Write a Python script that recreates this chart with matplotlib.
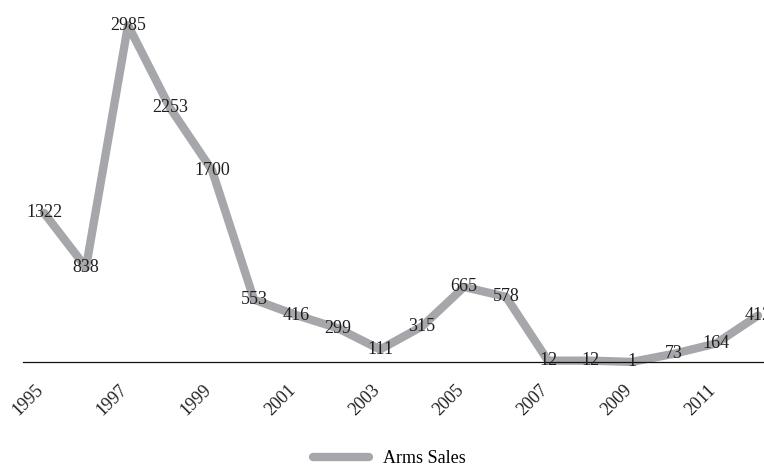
import matplotlib
matplotlib.use('Agg')
import matplotlib.pyplot as plt
import matplotlib.transforms as mtransforms

years = list(range(1995, 2013))
sales = [1322, 838, 2985, 2253, 1700, 553, 416, 299, 111, 315, 665, 578, 12, 12, 1, 73, 164, 412]
tick_years = [y for y in years if y % 2 == 1]

plt.rcParams['font.family'] = ['Liberation Serif', 'DejaVu Serif']

fig = plt.figure(figsize=(7.64, 4.66), dpi=100)
ax = fig.add_axes([23 / 764, 104 / 466, 756 / 764, 361 / 466])

x = list(range(len(years)))
line, = ax.plot(x, sales, color='#a6a7aa', lw=6, solid_capstyle='round',
                solid_joinstyle='round', label='Arms Sales', clip_on=False)

for xi, v in zip(x, sales):
    ax.text(xi, v, str(v), ha='center', va='center', fontsize=13, color='#231f20')

ax.set_xlim(-0.5, len(years) - 0.5)
ax.set_ylim(0, 3200)
ax.set_xticks([years.index(y) for y in tick_years])
ax.set_xticklabels([str(y) for y in tick_years], rotation=45, ha='right', va='top',
                   rotation_mode='anchor', fontsize=13, color='#231f20')
ax.tick_params(axis='x', length=0, pad=14)
# nudge the rotated labels left so their ends sit under the ticks
shift = mtransforms.ScaledTranslation(-9 / 100, 0, fig.dpi_scale_trans)
for lab in ax.get_xticklabels():
    lab.set_transform(lab.get_transform() + shift)
ax.set_yticks([])
for s in ['top', 'right', 'left']:
    ax.spines[s].set_visible(False)
ax.spines['bottom'].set_linewidth(0.9)
ax.spines['bottom'].set_color('#111111')

fig.legend(handles=[line], loc='lower center', bbox_to_anchor=(0.51, -0.038),
           frameon=False, fontsize=13, handlelength=3.1, handletextpad=0.8)

fig.savefig('out.png', dpi=100)
